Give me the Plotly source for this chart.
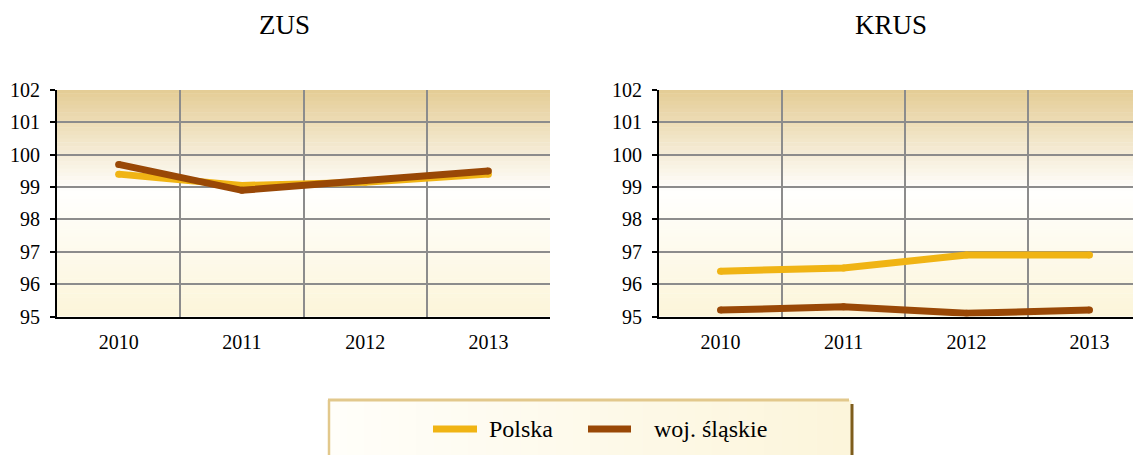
import plotly.graph_objects as go

# data
years = ["2010", "2011", "2012", "2013"]
zus_polska = [99.4, 99.05, 99.15, 99.4]
zus_slaskie = [99.7, 98.9, 99.2, 99.5]
krus_polska = [96.4, 96.5, 96.9, 96.9]
krus_slaskie = [95.2, 95.3, 95.1, 95.2]
series_names = ["Polska", "woj. śląskie"]
panel_titles = ["ZUS", "KRUS"]

W, H = 1141, 455
OFF = 8  # page body margin
YELLOW = "#f0b414"
BROWN = "#994806"
FONT = "Liberation Serif, Times New Roman, serif"


def px_x(v):
    return (v - OFF) / W


def px_y(v):
    return 1 - (v - OFF) / H


def mix(c1, c2, t):
    return "rgb(%d,%d,%d)" % tuple(round(a + (b - a) * t) for a, b in zip(c1, c2))


def grad_color(t):
    # t = 0 top of plot, 1 bottom
    top, white, bottom = (228, 204, 148), (255, 255, 254), (252, 245, 217)
    if t < 0.45:
        return mix(top, white, t / 0.45)
    return mix(white, bottom, (t - 0.45) / 0.55)


fig = go.Figure()

for ys, color, name, xa, ya in [
    (zus_polska, YELLOW, series_names[0], "x", "y"),
    (zus_slaskie, BROWN, series_names[1], "x", "y"),
    (krus_polska, YELLOW, series_names[0], "x2", "y2"),
    (krus_slaskie, BROWN, series_names[1], "x2", "y2"),
]:
    # round markers mimic the rounded line caps of the original
    fig.add_trace(go.Scatter(x=years, y=ys, mode="lines+markers", name=name,
                             line=dict(color=color, width=7),
                             marker=dict(color=color, size=7, line_width=0),
                             xaxis=xa, yaxis=ya, hoverinfo="x+y+name"))

ydom = [px_y(316.5), px_y(90)]

xaxis_common = dict(type="category", tickson="boundaries", ticks="", showgrid=True,
                    gridcolor="#8c8c8c", gridwidth=1.5, showline=True, linecolor="black",
                    linewidth=2, tickfont=dict(family=FONT, size=20, color="black"),
                    ticklabelstandoff=6, fixedrange=True, automargin=False)
yaxis_common = dict(range=[95, 102], dtick=1, ticks="outside", ticklen=5, tickwidth=2,
                    tickcolor="black", showgrid=True, gridcolor="#8c8c8c", gridwidth=1.5,
                    showline=True, linecolor="black", linewidth=2, zeroline=False,
                    tickfont=dict(family=FONT, size=20, color="black"),
                    ticklabelstandoff=6, domain=ydom, fixedrange=True, automargin=False)

# right panel is cut by the window edge: 123 px per category
right_end = (W + OFF - 659) / 123.0 - 0.5

fig.update_layout(
    width=W, height=H, autosize=False,
    margin=dict(l=0, r=0, t=0, b=0, pad=0, autoexpand=False),
    paper_bgcolor="white",
    plot_bgcolor="rgba(0,0,0,0)",
    showlegend=False,
    xaxis=dict(xaxis_common, domain=[px_x(57), px_x(550)], range=[-0.5, 3.5], anchor="y"),
    yaxis=dict(yaxis_common, anchor="x"),
    xaxis2=dict(xaxis_common, domain=[px_x(659), 1.0], range=[-0.5, right_end], anchor="y2"),
    yaxis2=dict(yaxis_common, anchor="x2"),
)

# gradient plot backgrounds
shapes = []
n = 60
for xr, yr in (("x domain", "y domain"), ("x2 domain", "y2 domain")):
    for i in range(n):
        shapes.append(dict(type="rect", xref=xr, yref=yr, x0=0, x1=1,
                           y0=1 - (i + 1) / n, y1=min(1, 1 - i / n + 0.002),
                           fillcolor=grad_color((i + 0.5) / n), line_width=0, layer="below"))

# legend box
lx0, lx1, ly0 = 329, 851, 400
nb = 30
for i in range(nb):
    t = (i + 0.5) / nb
    shapes.append(dict(type="rect", xref="paper", yref="paper",
                       x0=px_x(lx0 + (lx1 - lx0) * i / nb), x1=px_x(lx0 + (lx1 - lx0) * (i + 1) / nb + 0.5),
                       y0=0, y1=px_y(ly0),
                       fillcolor=mix((255, 254, 250), (252, 245, 218), t), line_width=0))
shapes.append(dict(type="line", xref="paper", yref="paper", x0=px_x(328), x1=px_x(849),
                   y0=px_y(400), y1=px_y(400), line=dict(color="#e2c88c", width=3)))
shapes.append(dict(type="line", xref="paper", yref="paper", x0=px_x(329), x1=px_x(329),
                   y0=px_y(400), y1=0, line=dict(color="#e2c88c", width=2.5)))
shapes.append(dict(type="line", xref="paper", yref="paper", x0=px_x(852), x1=px_x(852),
                   y0=px_y(404), y1=0, line=dict(color="#7e5d1c", width=3)))
# legend swatches
shapes.append(dict(type="line", xref="paper", yref="paper", x0=px_x(433), x1=px_x(477),
                   y0=px_y(429), y1=px_y(429), line=dict(color=YELLOW, width=7)))
shapes.append(dict(type="line", xref="paper", yref="paper", x0=px_x(588), x1=px_x(631),
                   y0=px_y(429), y1=px_y(429), line=dict(color=BROWN, width=7)))
fig.update_layout(shapes=shapes)

annotations = [
    dict(text=panel_titles[0], x=px_x(284), y=px_y(25)),
    dict(text=panel_titles[1], x=px_x(891), y=px_y(25)),
]
for a in annotations:
    a.update(xref="paper", yref="paper", showarrow=False, xanchor="center", yanchor="middle",
             font=dict(family=FONT, size=27, color="black"))
annotations += [
    dict(text=series_names[0], x=px_x(487), y=px_y(429), xanchor="left"),
    dict(text=series_names[1], x=px_x(652), y=px_y(429), xanchor="left"),
]
for a in annotations[2:]:
    a.update(xref="paper", yref="paper", showarrow=False, yanchor="middle",
             font=dict(family=FONT, size=24, color="black"))
fig.update_layout(annotations=annotations)

fig.write_html("out.html")
